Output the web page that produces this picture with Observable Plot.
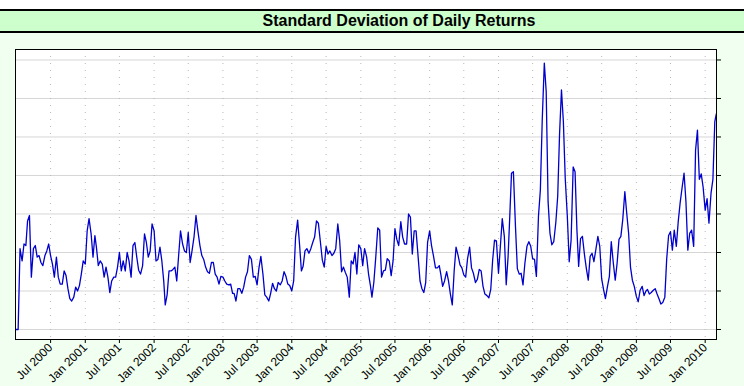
<!DOCTYPE html>
<html><head><meta charset="utf-8">
<script src="https://cdn.jsdelivr.net/npm/d3@7"></script>
<script src="https://cdn.jsdelivr.net/npm/@observablehq/plot@0.6"></script>
<style>
body{margin:0;background:#fff;}
#wrap{width:744px;height:386px;background:#f0fff0;position:relative;overflow:hidden;font-family:Arial,"Liberation Sans",sans-serif;}
#top{height:9px;background:#fff;}
#title{height:20px;line-height:20px;border-top:2px solid #000;border-bottom:2px solid #000;background:#ccffcc;font-weight:bold;font-size:16px;text-align:center;padding-left:54px;color:#000;}
#chart svg{display:block;}
</style></head>
<body><div id="wrap"><div id="top"></div><div id="title"></div><div id="chart"></div></div>
<script>
const chartTitle = "Standard Deviation of Daily Returns";
const years = [2000, 2001, 2002, 2003, 2004, 2005, 2006, 2007, 2008, 2009, 2010];
const readDays = [1, 11, 21]; // three readings per month
const sd2000 = [0,0,1.05, 0.89,1.11,1.09, 1.41,1.48,0.68, 1.05,1.09,0.94, 0.96,0.87,0.83, 0.96,1.02,1.11, 0.96,0.85,0.68, 0.94,0.68,0.59, 0.59,0.76,0.70, 0.53,0.40,0.37, 0.42,0.55,0.50, 0.57,0.72,0.89];
const sd2001 = [0.85,1.28,1.44, 1.24,0.94,1.22, 1.07,0.83,0.89, 0.85,0.68,0.81, 0.68,0.48,0.63, 0.68,0.68,0.81, 1.00,0.76,0.89, 0.76,1.00,0.89, 0.68,1.09,1.13, 0.94,0.77,0.72, 0.83,1.24,1.13, 0.94,1.02,1.37];
const sd2002 = [1.28,0.89,0.91, 1.07,0.89,0.63, 0.32,0.45,0.76, 0.76,0.78,0.81, 0.63,0.96,1.28, 1.11,1.02,1.00, 1.26,0.87,1.02, 1.21,1.48,1.28, 1.09,0.96,0.91, 0.81,0.75,0.73, 0.87,0.87,0.72, 0.68,0.59,0.69];
const sd2003 = [0.68,0.63,0.59, 0.58,0.59,0.47, 0.47,0.37,0.53, 0.53,0.47,0.55, 0.68,0.75,0.96, 0.91,0.68,0.69, 0.58,0.80,0.95, 0.72,0.45,0.42, 0.37,0.47,0.60, 0.53,0.50,0.61, 0.58,0.63,0.75, 0.69,0.59,0.57];
const sd2004 = [0.50,0.63,1.20, 1.42,1.11,0.76, 0.82,1.02,1.05, 0.99,1.05,1.13, 1.20,1.41,1.38, 1.13,0.90,0.81, 1.08,0.98,1.02, 0.96,0.99,1.05, 1.37,1.15,0.75, 0.81,0.74,0.68, 0.42,0.89,0.85, 1.00,0.72,1.10];
const sd2005 = [1.05,0.83,1.05, 0.94,0.72,0.57, 0.42,0.61,0.93, 1.32,1.29,0.68, 0.76,0.77,0.92, 0.89,0.70,0.89, 1.31,1.17,1.09, 1.40,1.20,1.11, 1.11,1.50,1.46, 0.98,1.28,1.28, 0.94,0.63,0.53, 0.48,0.61,1.13];
const sd2006 = [1.28,1.09,0.96, 0.80,0.80,0.83, 0.72,0.56,0.63, 0.75,0.63,0.46, 0.32,0.76,1.07, 0.96,0.84,0.80, 0.71,0.68,0.92, 1.07,0.80,0.73, 0.61,0.65,0.78, 0.76,0.56,0.46, 0.44,0.41,0.52, 0.90,1.16,1.15];
const sd2007 = [0.73,1.08,1.44, 1.21,0.58,0.95, 1.42,2.03,2.05, 1.34,0.79,0.72, 0.73,0.58,0.86, 1.08,1.14,1.08, 0.92,0.91,0.69, 1.47,1.81,2.72, 3.46,3.09,1.66, 1.25,1.10,1.14, 1.39,1.73,2.55, 3.11,2.70,1.96];
const sd2008 = [1.47,0.88,1.16, 2.11,2.05,1.29, 0.82,1.18,1.21, 0.97,0.79,0.64, 0.95,0.99,0.88, 1.05,1.21,1.08, 0.66,0.52,0.40, 0.56,0.69,1.14, 0.86,0.64,0.86, 1.17,1.21,1.43, 1.79,1.51,1.25, 0.81,0.64,0.56];
const sd2009 = [0.43,0.36,0.51, 0.56,0.44,0.50, 0.52,0.46,0.48, 0.51,0.53,0.46, 0.40,0.33,0.35, 0.42,0.92,1.22, 1.27,1.03,1.29, 1.08,1.40,1.64, 1.85,2.03,1.66, 1.03,1.25,1.29, 1.08,2.33,2.59, 1.95,2.02,1.85];
const sd2010 = [1.55,1.70,1.38, 1.77,1.95,2.70, 2.80];
const tickLabels = ["Jul 2000","Jan 2001","Jul 2001","Jan 2002","Jul 2002","Jan 2003","Jul 2003","Jan 2004","Jul 2004","Jan 2005","Jul 2005","Jan 2006","Jul 2006","Jan 2007","Jul 2007","Jan 2008","Jul 2008","Jan 2009","Jul 2009","Jan 2010"];
const gridValues = [0, 0.5, 1, 1.5, 2, 2.5, 3, 3.5];
const xStart = "1999-12-28", xEnd = "2010-03-02";

const yearly = [sd2000, sd2001, sd2002, sd2003, sd2004, sd2005, sd2006, sd2007, sd2008, sd2009, sd2010];
const series = [];
yearly.forEach((vals, k) => vals.forEach((v, i) => {
  series.push({date: new Date(Date.UTC(years[k], Math.floor(i / 3), readDays[i % 3])), sd: v});
}));
const parseTick = d3.utcParse("%b %Y");
const tickDates = tickLabels.map(parseTick);

document.getElementById("title").textContent = chartTitle;

const chart = Plot.plot({
  width: 744, height: 353,
  marginLeft: 15, marginRight: 28, marginTop: 16, marginBottom: 47,
  style: {background: "transparent", fontFamily: "Arial, 'Liberation Sans', sans-serif", fontSize: "12px", color: "#000"},
  x: {type: "utc", domain: [new Date(xStart), new Date(xEnd)]},
  y: {domain: [-0.13, 3.636]},
  marks: [
    Plot.frame({fill: "white", stroke: null}),
    Plot.gridY(gridValues, {stroke: "#d6d6d6", strokeOpacity: 1}),
    Plot.gridX(tickDates, {stroke: "#b8b8b8", strokeOpacity: 1, strokeDasharray: "1,6"}),
    Plot.line(series, {x: "date", y: "sd", stroke: "#0000cc", strokeWidth: 1.3}),
    Plot.frame({stroke: "#000"}),
    Plot.axisY(gridValues, {anchor: "right", tickSize: 4, fill: "none", label: null}),
    Plot.axisX(tickDates, {anchor: "bottom", tickSize: 4, tickPadding: 2, tickRotate: -45, fontSize: 12, tickFormat: d3.utcFormat("%b %Y"), label: null})
  ]
});
document.getElementById("chart").appendChild(chart);
</script>
</body></html>
